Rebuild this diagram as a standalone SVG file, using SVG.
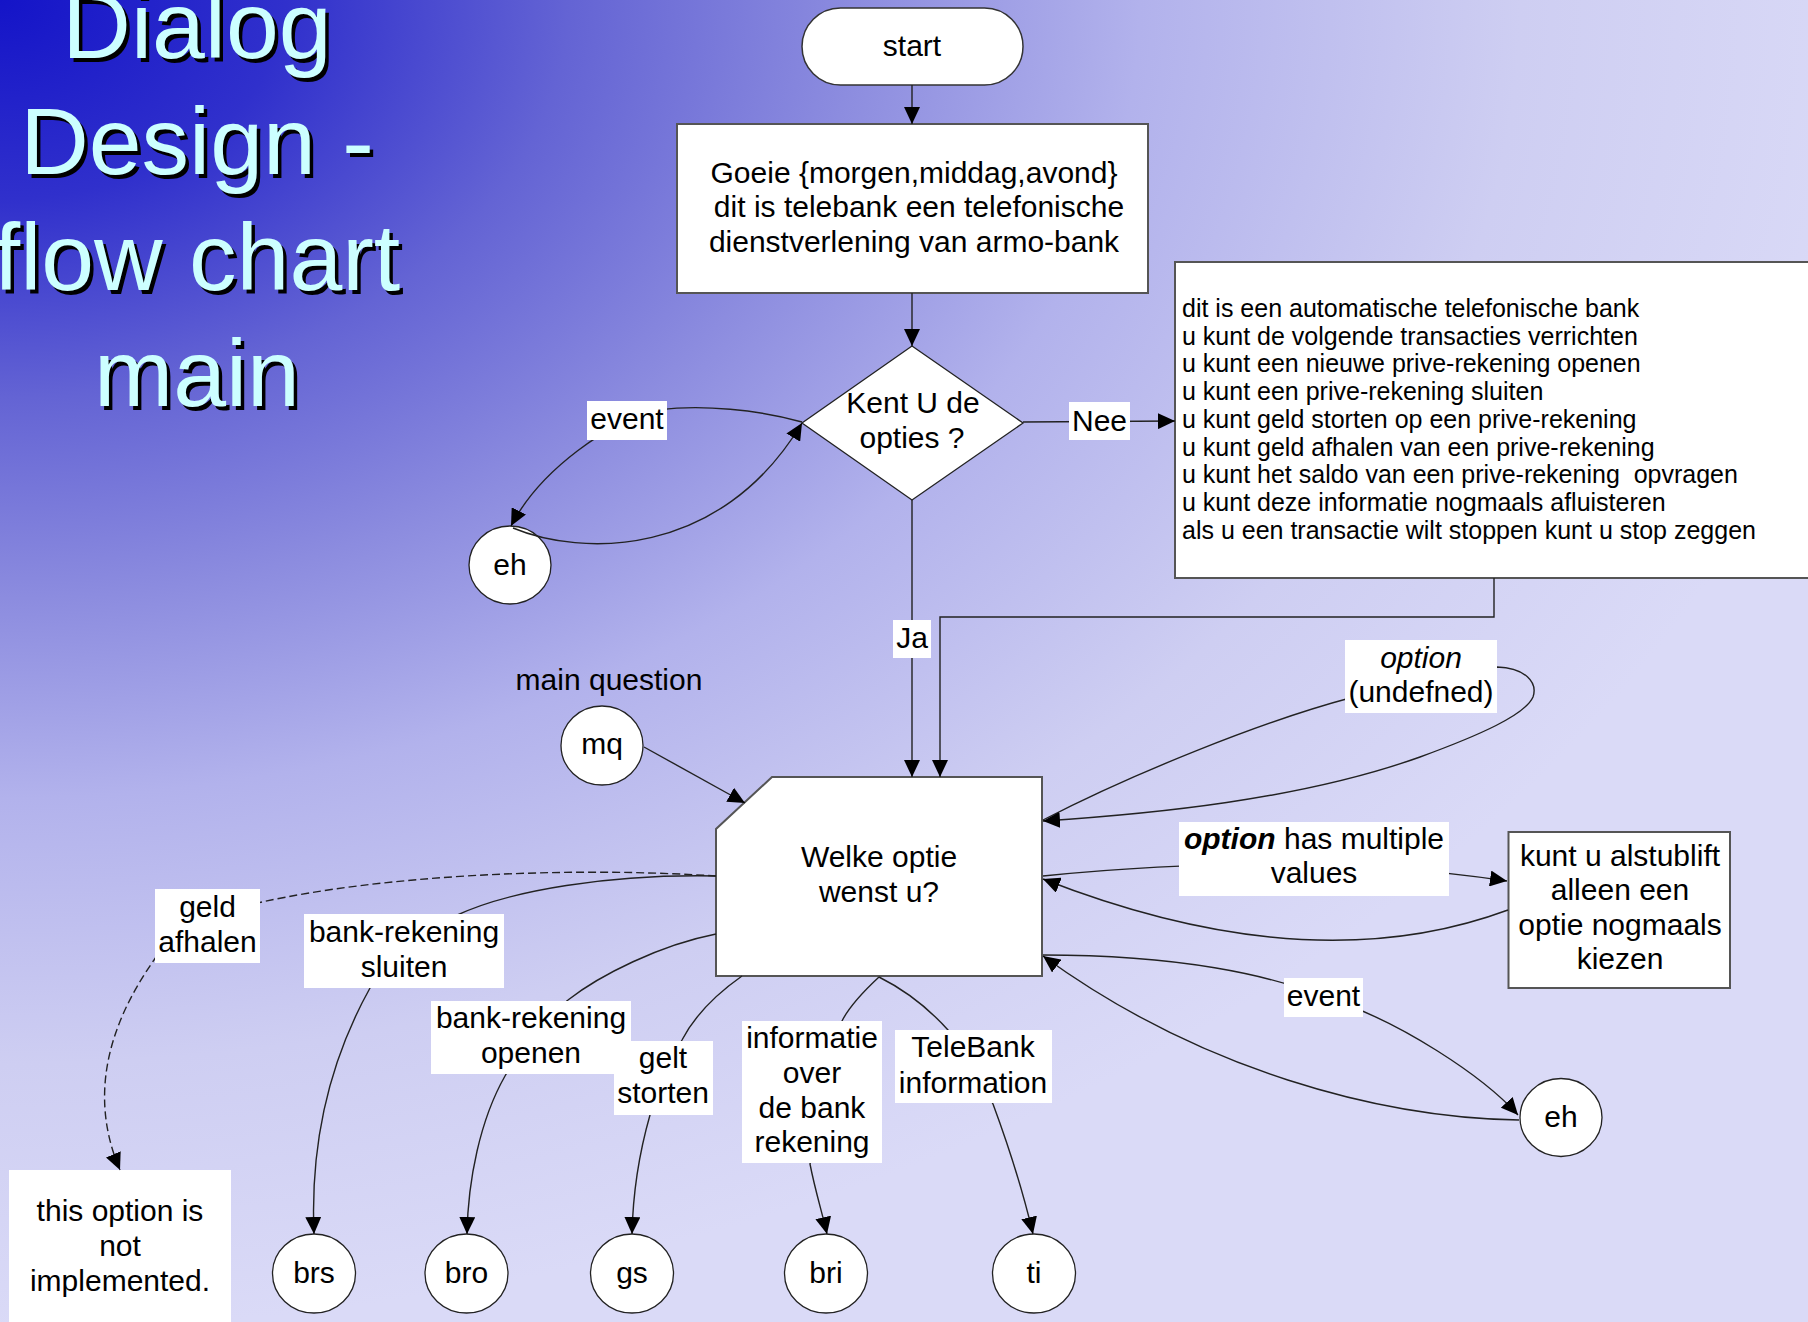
<svg xmlns="http://www.w3.org/2000/svg" width="1808" height="1322" viewBox="0 0 1808 1322">
  <defs>
    <radialGradient id="bg" gradientUnits="userSpaceOnUse" cx="0" cy="0" r="1900" gradientTransform="scale(1,0.7)">
      <stop offset="0" stop-color="#1414C8"/>
      <stop offset="0.15" stop-color="#3030CC"/>
      <stop offset="0.3" stop-color="#6464D4"/>
      <stop offset="0.45" stop-color="#8C8CDF"/>
      <stop offset="0.6" stop-color="#B2B2EC"/>
      <stop offset="0.8" stop-color="#CECEF2"/>
      <stop offset="1" stop-color="#DADAF7"/>
    </radialGradient>
    <marker id="arrow" markerUnits="userSpaceOnUse" markerWidth="17" markerHeight="16" refX="17" refY="8" orient="auto">
      <path d="M0,0 L17,8 L0,16 z" fill="#000"/>
    </marker>
    <style>
      .box { fill:#fff; stroke:#555; stroke-width:2; }
      .circ { fill:#fff; stroke:#222; stroke-width:1.3; }
      .edge { fill:none; stroke:#222; stroke-width:1.4; marker-end:url(#arrow); }
      .dash { stroke-dasharray:8 4; }
      .lbl { fill:#fff; }
      .t { font-family:"Liberation Sans", Arial, sans-serif; font-size:30px; fill:#000; text-anchor:middle; }
      .info { font-family:"Liberation Sans", Arial, sans-serif; font-size:25px; fill:#000; }
      .title { font-family:"Liberation Sans", Arial, sans-serif; font-size:95px; text-anchor:middle; }
    </style>
  </defs>

  <!-- slide background -->
  <rect x="0" y="0" width="1808" height="1322" fill="url(#bg)"/>

  <!-- title with drop shadow -->
  <g id="title" class="title">
    <g fill="#000" transform="translate(3.5,3.5)">
      <text x="197" y="58">Dialog</text>
      <text x="197" y="174">Design -</text>
      <text x="197" y="290">flow chart</text>
      <text x="197" y="406">main</text>
    </g>
    <g fill="#CCFFFF">
      <text x="197" y="58">Dialog</text>
      <text x="197" y="174">Design -</text>
      <text x="197" y="290">flow chart</text>
      <text x="197" y="406">main</text>
    </g>
  </g>

  <!-- nodes -->
  <g id="node-start">
    <rect class="box" x="802" y="8" width="221" height="77" rx="38.5" ry="38.5" style="stroke:#333;stroke-width:1.5"/>
    <text class="t" x="912" y="56">start</text>
  </g>
  <g id="node-greeting">
    <rect class="box" x="677" y="124" width="471" height="169"/>
    <text class="t" x="914" y="183">Goeie {morgen,middag,avond}</text>
    <text class="t" x="919" y="217">dit is telebank een telefonische</text>
    <text class="t" x="914" y="252">dienstverlening van armo-bank</text>
  </g>
  <g id="node-decision">
    <polygon class="circ" points="912,346 1023,423 912,500 802,423"/>
    <text class="t" x="913" y="413">Kent U de</text>
    <text class="t" x="912" y="448">opties ?</text>
  </g>
  <g id="node-info">
    <rect class="box" x="1175" y="262" width="700" height="316"/>
    <text class="info" x="1182" y="317">dit is een automatische telefonische bank</text>
    <text class="info" x="1182" y="344.7">u kunt de volgende transacties verrichten</text>
    <text class="info" x="1182" y="372.4">u kunt een nieuwe prive-rekening openen</text>
    <text class="info" x="1182" y="400.1">u kunt een prive-rekening sluiten</text>
    <text class="info" x="1182" y="427.8">u kunt geld storten op een prive-rekening</text>
    <text class="info" x="1182" y="455.5">u kunt geld afhalen van een prive-rekening</text>
    <text class="info" x="1182" y="483.2" xml:space="preserve">u kunt het saldo van een prive-rekening  opvragen</text>
    <text class="info" x="1182" y="510.9">u kunt deze informatie nogmaals afluisteren</text>
    <text class="info" x="1182" y="538.6">als u een transactie wilt stoppen kunt u stop zeggen</text>
  </g>
  <g id="node-eh-top">
    <ellipse class="circ" cx="510" cy="565" rx="41" ry="39"/>
    <text class="t" x="510" y="575">eh</text>
  </g>
  <g id="node-mq">
    <text class="t" x="609" y="690">main question</text>
    <ellipse class="circ" cx="602" cy="745.5" rx="41" ry="39.5"/>
    <text class="t" x="602" y="754">mq</text>
  </g>
  <g id="node-question">
    <polygon class="box" points="772,777 1042,777 1042,976 716,976 716,829"/>
    <text class="t" x="879" y="867">Welke optie</text>
    <text class="t" x="879" y="902">wenst u?</text>
  </g>
  <g id="node-retry">
    <rect class="box" x="1508.5" y="832" width="221.5" height="156"/>
    <text class="t" x="1620" y="865.5">kunt u alstublift</text>
    <text class="t" x="1620" y="900">alleen een</text>
    <text class="t" x="1620" y="934.5">optie nogmaals</text>
    <text class="t" x="1620" y="969">kiezen</text>
  </g>
  <g id="node-eh-right">
    <ellipse class="circ" cx="1561" cy="1117.5" rx="41" ry="39"/>
    <text class="t" x="1561" y="1127">eh</text>
  </g>
  <g id="node-not-implemented">
    <rect class="lbl" x="9" y="1170" width="222" height="160"/>
    <text class="t" x="120" y="1221">this option is</text>
    <text class="t" x="120" y="1256">not</text>
    <text class="t" x="120" y="1291">implemented.</text>
  </g>
  <g id="node-brs">
    <ellipse class="circ" cx="314" cy="1273.5" rx="41.5" ry="39.5"/>
    <text class="t" x="314" y="1283">brs</text>
  </g>
  <g id="node-bro">
    <ellipse class="circ" cx="466.5" cy="1273.5" rx="41.5" ry="39.5"/>
    <text class="t" x="466.5" y="1283">bro</text>
  </g>
  <g id="node-gs">
    <ellipse class="circ" cx="632" cy="1273.5" rx="41.5" ry="39.5"/>
    <text class="t" x="632" y="1283">gs</text>
  </g>
  <g id="node-bri">
    <ellipse class="circ" cx="826" cy="1273.5" rx="41.5" ry="39.5"/>
    <text class="t" x="826" y="1283">bri</text>
  </g>
  <g id="node-ti">
    <ellipse class="circ" cx="1034" cy="1273.5" rx="41.5" ry="39.5"/>
    <text class="t" x="1034" y="1283">ti</text>
  </g>

  <!-- connectors -->
  <g id="connectors">
    <path class="edge" d="M912,85 L912,124"/>
    <path class="edge" d="M912,293 L912,346"/>
    <path class="edge" d="M1023,422 L1175,421"/>
    <path class="edge" d="M912,500 L912,777"/>
    <path class="edge" d="M1494,578 L1494,617 L940,617 L940,777"/>
    <path class="edge" d="M802,422 C760,410 700,404 660,410 C610,420 540,470 511,526"/>
    <path class="edge" d="M513,528 C580,556 720,560 802,423"/>
    <path class="edge" d="M644,747 L745,803"/>
    <path class="edge" d="M1043,820 C1130,775 1260,722 1350,698 L1497,667 C1525,668 1538,682 1533,697 C1525,715 1480,735 1420,757 C1300,800 1150,814 1043,821"/>
    <path class="edge" d="M1043,876 Q1300,850 1507,881"/>
    <path class="edge" d="M1508,910 C1400,950 1250,960 1043,879"/>
    <path class="edge" d="M1043,955 C1180,955 1270,975 1324,997 C1400,1020 1485,1078 1518,1115"/>
    <path class="edge" d="M1519,1120 C1380,1118 1200,1070 1043,956"/>
    <path class="edge dash" d="M716,876 C560,866 380,876 262,902 C200,916 170,935 154,960 C105,1030 90,1100 120,1170"/>
    <path class="edge" d="M716,876 C610,874 510,890 455,916 C410,938 385,960 370,988 C330,1060 310,1140 314,1234"/>
    <path class="edge" d="M716,934 C660,945 600,975 568,1000 C540,1020 520,1050 505,1076 C480,1120 468,1180 467,1234"/>
    <path class="edge" d="M742,976 C715,995 695,1015 682,1040 C665,1070 655,1095 650,1115 C640,1150 633,1190 632,1234"/>
    <path class="edge" d="M879,977 C865,990 850,1005 842,1021 L810,1164 C815,1190 822,1212 827,1234"/>
    <path class="edge" d="M879,977 C905,990 930,1010 948,1030 L993,1104 C1010,1150 1025,1200 1033,1234"/>
  </g>

  <!-- connector labels -->
  <g id="edge-labels">
    <rect class="lbl" x="587" y="401" width="80" height="39"/>
    <text class="t" x="627" y="429">event</text>
    <rect class="lbl" x="1069" y="402" width="61" height="38"/>
    <text class="t" x="1099.5" y="431">Nee</text>
    <rect class="lbl" x="893" y="620" width="38" height="38"/>
    <text class="t" x="912" y="648">Ja</text>
    <rect class="lbl" x="1345" y="640" width="152" height="73"/>
    <text class="t" x="1421" y="668" font-style="italic">option</text>
    <text class="t" x="1421" y="702">(undefned)</text>
    <rect class="lbl" x="1179" y="822" width="270" height="74"/>
    <text class="t" x="1314" y="849"><tspan font-weight="bold" font-style="italic">option</tspan> has multiple</text>
    <text class="t" x="1314" y="883">values</text>
    <rect class="lbl" x="1284" y="978" width="79" height="39"/>
    <text class="t" x="1323.5" y="1006">event</text>
    <rect class="lbl" x="155" y="889" width="105" height="74"/>
    <text class="t" x="207.5" y="917">geld</text>
    <text class="t" x="207.5" y="952">afhalen</text>
    <rect class="lbl" x="304" y="914" width="200" height="74"/>
    <text class="t" x="404" y="942">bank-rekening</text>
    <text class="t" x="404" y="977">sluiten</text>
    <rect class="lbl" x="431" y="1001" width="200" height="73"/>
    <text class="t" x="531" y="1028">bank-rekening</text>
    <text class="t" x="531" y="1063">openen</text>
    <rect class="lbl" x="614" y="1041" width="99" height="74"/>
    <text class="t" x="663" y="1068">gelt</text>
    <text class="t" x="663" y="1103">storten</text>
    <rect class="lbl" x="742" y="1021" width="140" height="142"/>
    <text class="t" x="812" y="1048">informatie</text>
    <text class="t" x="812" y="1083">over</text>
    <text class="t" x="812" y="1117.5">de bank</text>
    <text class="t" x="812" y="1152">rekening</text>
    <rect class="lbl" x="895" y="1030" width="157" height="73"/>
    <text class="t" x="973" y="1057">TeleBank</text>
    <text class="t" x="973" y="1093">information</text>
  </g>
</svg>
